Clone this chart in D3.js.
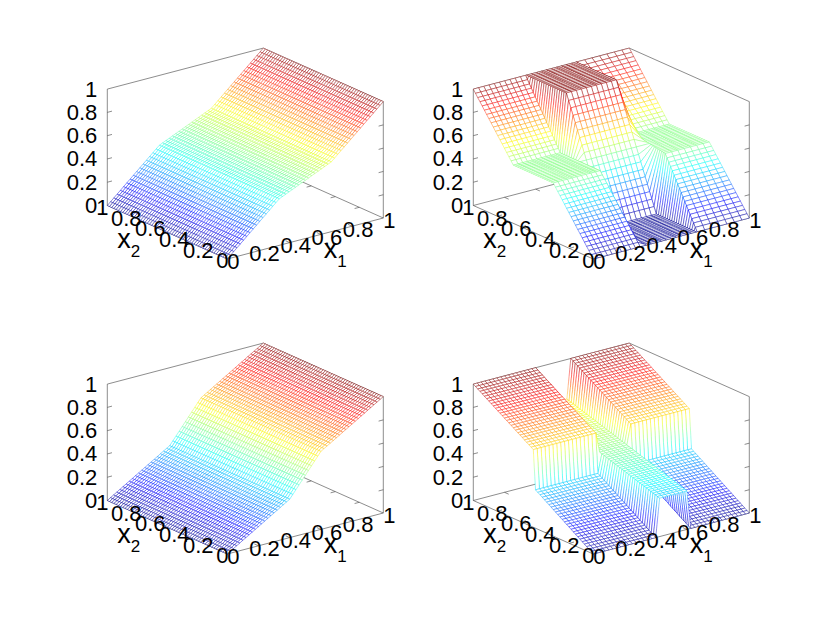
<!DOCTYPE html>
<html lang="en">
<head>
<meta charset="UTF-8">
<title>Mesh surfaces</title>
<script src="https://d3js.org/d3.v7.min.js"></script>
<style>
  body { margin: 0; background: #fff; }
  text { font-family: "Liberation Sans", Arial, sans-serif; fill: #000; }
</style>
</head>
<body>
<svg id="chart" width="830" height="623"></svg>
<script>
// tick values and labels
const axisTicks = [0, 0.2, 0.4, 0.6, 0.8, 1];
const innerTicks = [0.2, 0.4, 0.6, 0.8];

// top left: height along x1, same for every x2
const surf1Z = [0, .025, .05, .075, .1, .125, .15, .175, .2, .225, .25, .275, .3, .325, .35, .375, .4,
  .4125, .425, .4375, .45, .4625, .475, .4875, .5, .5125, .525, .5375, .55, .5625, .575, .5875, .6,
  .625, .65, .675, .7, .725, .75, .775, .8, .825, .85, .875, .9, .925, .95, .975, 1];

// bottom left: height along x1, same for every x2
const surf3Z = [0, .017, .033, .05, .066, .083, .099, .116, .132, .149, .165, .182, .198, .215, .231, .248, .264, .281, .297, .314, .33,
  .364, .398, .432, .466, .5, .534, .568, .602, .636, .67,
  .687, .703, .72, .736, .753, .769, .786, .802, .819, .835, .852, .868, .885, .901, .918, .934, .951, .967, .984, 1];

// top right: two height profiles along x2, and which one each x1 line uses
const surf2X1 = [0, .03, .06, .09, .12, .15, .18, .21, .24, .27, .3,
  .34, .372, .404, .436, .468, .5, .532, .564, .596, .628, .66,
  .77, .803, .836, .869, .901, .934, .967, 1];
const surf2Profile = [0, 0, 0, 0, 0, 0, 0, 0, 0, 0, 0, 1, 1, 1, 1, 1, 1, 1, 1, 1, 1, 1, 0, 0, 0, 0, 0, 0, 0, 0];
const surf2Outer = [0, .028, .056, .083, .111, .139, .167, .194, .222, .25, .278, .306, .333, .361, .389, .417, .444, .472, .5,
  .5, .5, .5, .5, .5, .5, .5, .5, .5, .5, .5, .5, .5, .5, .5, .5, .5, .5,
  .528, .556, .583, .611, .639, .667, .694, .722, .75, .778, .806, .833, .861, .889, .917, .944, .972, 1];
const surf2Center = [0, 0, 0, 0, 0, 0, 0, 0, 0, 0, 0, 0, 0, 0, 0, 0, 0, 0, 0,
  .056, .111, .167, .222, .278, .333, .389, .444, .5, .556, .611, .667, .722, .778, .833, .889, .944, 1,
  1, 1, 1, 1, 1, 1, 1, 1, 1, 1, 1, 1, 1, 1, 1, 1, 1, 1];
// inner edges of the side blocks drift with x2
const surf2RightRows = [0, .67, 1];
const surf2RightEdge = [.665, .77, .665];
const surf2LeftRows = [.66, 1];
const surf2LeftEdge = [.3, .335];

// bottom right: same idea, with a jump half way along x2
const surf4Profile = [0, 0, 0, 0, 0, 0, 0, 0, 0, 0, 0, 0, 0, 0, 0, 0, 0, 1, 1, 1, 1, 1, 1, 1, 1,
  0, 0, 0, 0, 0, 0, 0, 0, 0, 0, 0, 0, 0, 0, 0, 0];
const surf4Outer = [0, .013, .025, .038, .051, .063, .076, .089, .102, .114, .127, .14, .152, .165, .178, .19, .203, .216, .228, .241, .254, .267, .279, .292, .305, .317, .33,
  .667, .679, .692, .704, .716, .729, .741, .753, .766, .778, .79, .803, .815, .827, .84, .852, .864, .877, .889, .901, .914, .926, .938, .951, .963, .975, .988, 1];
const surf4Strip = [.33, .336, .342, .348, .354, .361, .367, .373, .379, .385,
  .391, .397, .403, .409, .416, .422, .428, .434, .44, .446,
  .452, .458, .464, .471, .477, .483, .489, .495, .501, .507,
  .513, .519, .526, .532, .538, .544, .55, .556, .562, .568,
  .574, .581, .587, .593, .599, .605, .611, .617, .623, .629,
  .636, .642, .648, .654, .66];

const jetStops = [0, .125, .375, .625, .875, 1];
const jetColors = ['#00008f', '#0000ff', '#00ffff', '#ffff00', '#ff0000', '#800000'];

const grid = n => d3.range(n).map(i => i / (n - 1));
const x2Rows = grid(55);

const rightEdge = d3.scaleLinear().domain(surf2RightRows).range(surf2RightEdge);
const leftEdge = d3.scaleLinear().domain(surf2LeftRows).range(surf2LeftEdge).clamp(true);
const surf2At = (i, j) => {
  const b = x2Rows[j], a = surf2X1[i];
  if (i >= 22) return d3.scaleLinear().domain([.77, 1]).range([rightEdge(b), 1])(a);
  if (i <= 10) return d3.scaleLinear().domain([0, .3]).range([0, leftEdge(b)])(a);
  return a;
};

// panel positions (page position of the x1=0, x2=0, z=0 corner)
const panels = [
  { fx: 227.3, fy: 259, nx: 49, at: (i) => i / 48, z: (i, j) => surf1Z[i] },
  { fx: 593.3, fy: 259, nx: surf2X1.length, at: surf2At, z: (i, j) => (surf2Profile[i] ? surf2Center : surf2Outer)[j] },
  { fx: 227.3, fy: 554, nx: 51, at: (i) => i / 50, z: (i, j) => surf3Z[i] },
  { fx: 593.3, fy: 554, nx: 41, at: (i) => i / 40, z: (i, j) => (surf4Profile[i] ? surf4Strip : surf4Outer)[j] }
];

// oblique projection, one scale per screen direction
const x1X = d3.scaleLinear().domain([0, 1]).range([0, 156]);
const x1Y = d3.scaleLinear().domain([0, 1]).range([0, -41]);
const x2X = d3.scaleLinear().domain([0, 1]).range([0, -120]);
const x2Y = d3.scaleLinear().domain([0, 1]).range([0, -53.5]);
const zY = d3.scaleLinear().domain([0, 1]).range([0, -116.4]);
const jet = d3.scaleLinear().domain(jetStops).range(jetColors).clamp(true);

const svg = d3.select('#chart');
const line = d3.line();
const axisColor = '#404040';
const meshWidth = 0.45;

panels.forEach(p => {
  const g = svg.append('g');
  const px = (a, b) => p.fx + x1X(a) + x2X(b);
  const py = (a, b, c) => p.fy + x1Y(a) + x2Y(b) + zY(c);

  const seg = (a, b) => g.append('path')
    .attr('d', line([a, b]))
    .attr('fill', 'none')
    .attr('stroke', axisColor)
    .attr('stroke-width', 0.6);
  const pt = (a, b, c) => [px(a, b), py(a, b, c)];

  // box behind the surface
  seg(pt(0, 1, 0), pt(0, 1, 1));
  seg(pt(1, 0, 0), pt(1, 0, 1));
  seg(pt(0, 1, 1), pt(1, 1, 1));
  seg(pt(1, 1, 1), pt(1, 0, 1));
  seg(pt(0, 1, 0), pt(1, 1, 0));
  seg(pt(1, 1, 0), pt(1, 0, 0));
  seg(pt(0, 1, 0), pt(0, 0, 0));
  seg(pt(0, 0, 0), pt(1, 0, 0));

  // ticks on the floor and the two upright edges
  innerTicks.forEach(t => {
    seg(pt(t, 0, 0), pt(t, 0.035, 0));
    seg(pt(t, 1, 0), pt(t, 0.965, 0));
    seg(pt(0, t, 0), pt(0.03, t, 0));
    seg(pt(1, t, 0), pt(0.97, t, 0));
    seg(pt(0, 1, t), pt(0.03, 1, t));
    seg(pt(1, 0, t), pt(0.97, 0, t));
  });

  // back to front so the white faces hide what is behind them
  for (let i = p.nx - 2; i >= 0; i--) {
    for (let j = x2Rows.length - 2; j >= 0; j--) {
      const corners = [[i, j], [i + 1, j], [i + 1, j + 1], [i, j + 1]].map(([a, b]) => {
        const z = p.z(a, b), xa = p.at(a, b);
        return { x: px(xa, x2Rows[b]), y: py(xa, x2Rows[b], z), z };
      });
      const zs = corners.map(c => c.z);
      const outline = line(corners.map(c => [c.x, c.y])) + 'Z';

      if (d3.max(zs) - d3.min(zs) < 0.06) {
        g.append('path').attr('d', outline).attr('fill', '#fff')
          .attr('stroke', jet(d3.mean(zs))).attr('stroke-width', meshWidth);
        continue;
      }
      g.append('path').attr('d', outline).attr('fill', '#fff');
      corners.forEach((c, k) => {
        const d = corners[(k + 1) % 4];
        const n = Math.max(1, Math.ceil(Math.abs(d.z - c.z) / 0.04));
        const t = d3.scaleLinear().domain([0, n]);
        d3.range(n).forEach(s => {
          const a = t(s), b = t(s + 1);
          g.append('path')
            .attr('d', line([[c.x + (d.x - c.x) * a, c.y + (d.y - c.y) * a], [c.x + (d.x - c.x) * b, c.y + (d.y - c.y) * b]]))
            .attr('fill', 'none')
            .attr('stroke', jet(c.z + (d.z - c.z) * (a + b) / 2))
            .attr('stroke-width', meshWidth);
        });
      });
    }
  }

  // tick labels
  const zScale = d3.scaleLinear().domain([0, 1]).range([py(0, 1, 0), py(0, 1, 1)]);
  const zAxis = g.append('g')
    .attr('transform', `translate(${px(0, 1)},0)`)
    .call(d3.axisLeft(zScale).tickValues(axisTicks).tickFormat(d => d).tickSize(0).tickPadding(10));
  zAxis.select('.domain').remove();
  zAxis.selectAll('text').attr('font-size', 22).attr('font-family', '"Liberation Sans", Arial, sans-serif');

  const label = (x, y, s) => g.append('text')
    .attr('x', x).attr('y', y).attr('font-size', 22)
    .attr('text-anchor', 'middle').attr('dominant-baseline', 'middle').text(s);
  axisTicks.forEach(t => {
    label(px(0, t) - 5, py(0, t, 0) + 3.5, String(t));
    label(px(t, 0) + 6, py(t, 0, 0) + 4.5, String(t));
  });

  // axis names with subscripts
  const name = (x, y, sub) => {
    const tx = g.append('text').attr('x', x).attr('y', y).attr('font-size', 27);
    tx.append('tspan').text('x');
    tx.append('tspan').attr('font-size', 17).attr('dy', 8.5).text(sub);
  };
  name(p.fx - 110, p.fy - 11, '2');
  name(p.fx + 96.5, p.fy - 1, '1');
});
</script>
</body>
</html>
